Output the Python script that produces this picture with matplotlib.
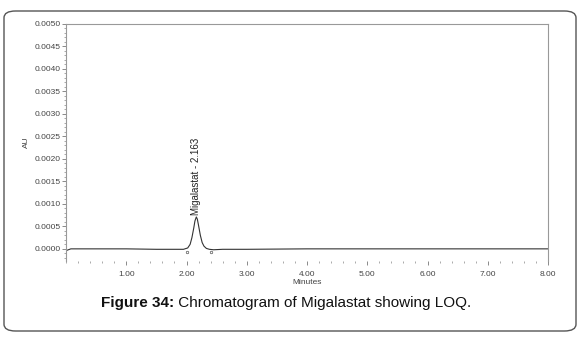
import matplotlib.pyplot as plt
from matplotlib.patches import FancyBboxPatch
from matplotlib.ticker import MultipleLocator, FormatStrFormatter

# trace (minutes, AU)
minutes = [0.02, 0.08, 0.2, 0.5, 1.0, 1.5, 1.85, 1.95, 2.02, 2.06, 2.09, 2.12,
           2.14, 2.163, 2.18, 2.20, 2.23, 2.26, 2.29, 2.33, 2.38, 2.45, 2.6,
           3.0, 4.0, 5.0, 6.0, 7.0, 8.0]
au = [-0.00003, 0.0, 0.0, 0.0, 0.0, -0.00001, -0.00001, -0.00001, 0.00002,
      0.00010, 0.00025, 0.00046, 0.00062, 0.00071, 0.00066, 0.00052, 0.00030,
      0.00014, 0.00006, 0.00001, -0.00001, -0.00002, -0.00001,
      -0.00001, 0.0, 0.0, 0.0, 0.0, 0.0]

peak_time = 2.163
peak_au = 0.00071
peak_label = "Migalastat - 2.163"
marks_t = [2.0, 2.4]
marks_au = [-0.00006, -0.00006]

caption_bold = "Figure 34:"
caption_rest = " Chromatogram of Migalastat showing LOQ."

W, H = 580, 337
fig = plt.figure(figsize=(W / 100, H / 100), dpi=100)
plt.rcParams['font.family'] = ['Liberation Sans', 'DejaVu Sans']

# rounded frame round the whole figure
box = FancyBboxPatch((4 / W, 6 / H), 572 / W, 320 / H,
                     boxstyle="round,pad=0,rounding_size=0.02",
                     transform=fig.transFigure, fill=False,
                     edgecolor='#555555', linewidth=1.0)
fig.patches.append(box)

ax = fig.add_axes([66 / W, 1 - 261 / H, (548 - 66) / W, (261 - 24) / H])
ax.plot(minutes, au, color='#333333', linewidth=0.8)
ax.plot(marks_t, marks_au, 'o', markersize=1.8, markerfacecolor='none',
        markeredgecolor='#555555', markeredgewidth=0.5)
ax.text(peak_time, peak_au + 0.00004, peak_label, rotation=90,
        ha='center', va='bottom', fontsize=7, color='#222222')

ax.set_xlim(0, 8)
ax.set_ylim(-0.00027, 0.0050)
ax.xaxis.set_major_locator(MultipleLocator(1))
ax.xaxis.set_minor_locator(MultipleLocator(0.2))
ax.yaxis.set_major_locator(MultipleLocator(0.0005))
ax.yaxis.set_minor_locator(MultipleLocator(0.0001))
ax.xaxis.set_major_formatter(FormatStrFormatter('%.2f'))
ax.yaxis.set_major_formatter(FormatStrFormatter('%.4f'))
ax.set_xticks([1, 2, 3, 4, 5, 6, 7, 8])
ax.set_yticks([0.0005 * i for i in range(11)])
ax.tick_params(axis='both', which='major', labelsize=6, length=3,
               width=0.6, color='#777777', labelcolor='#444444', pad=1)
ax.tick_params(axis='x', which='major', pad=4)
ax.tick_params(axis='both', which='minor', length=1.5, width=0.5,
               color='#888888')
for s in ['top', 'right', 'left']:
    ax.spines[s].set_color('#999999')
    ax.spines[s].set_linewidth(0.8)
ax.spines['bottom'].set_visible(False)

ax.set_ylabel("AU", fontsize=6, color='#444444', labelpad=3)
ax.set_xlabel("Minutes", fontsize=6, color='#444444', labelpad=1)

t1 = fig.text(101 / W, 1 - 303 / H, caption_bold, fontsize=11,
              fontweight='bold', ha='left', va='center', color='#111111')
fig.canvas.draw()
bb = t1.get_window_extent()
fig.text(bb.x1 / W, 1 - 303 / H, caption_rest, fontsize=11,
         ha='left', va='center', color='#111111')

fig.savefig("out.png", dpi=100)
